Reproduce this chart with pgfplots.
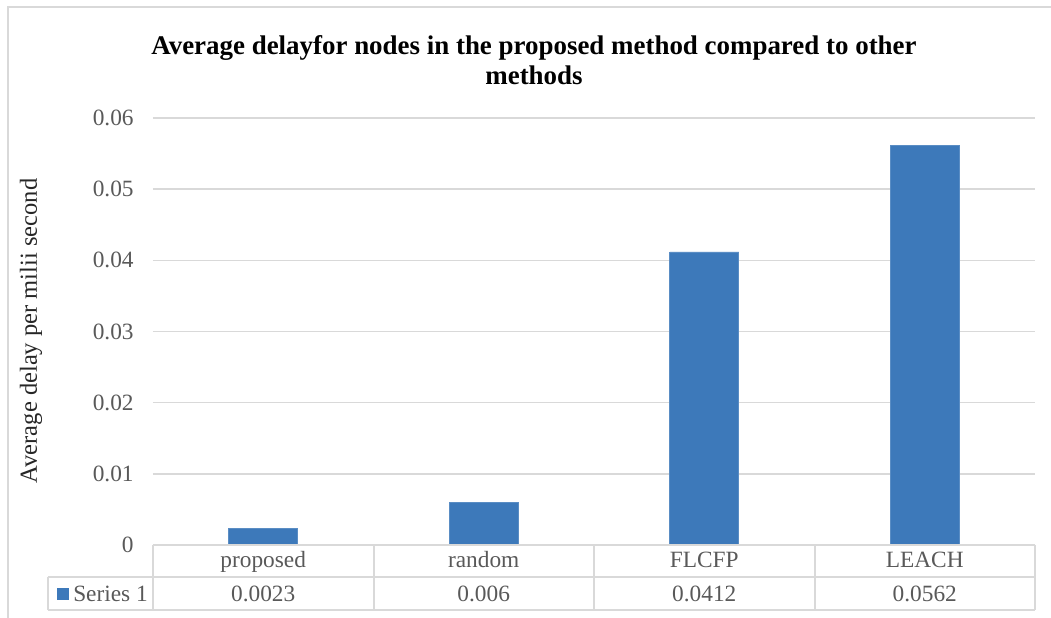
\documentclass[border=0pt]{standalone}
\usepackage{fontspec}
\setmainfont{Liberation Serif}
\usepackage{pgfplots}
\pgfplotsset{compat=1.18}

\definecolor{barblue}{RGB}{61,121,186}
\definecolor{gridgray}{RGB}{217,217,217}
\definecolor{txtgray}{RGB}{89,89,89}

\newcommand{\tickfont}{\fontsize{17.5}{20}\selectfont}

\begin{document}
\begin{tikzpicture}
\begin{axis}[
  at={(0,0)}, anchor=south west,
  scale only axis,
  width=661.5pt, height=320.25pt,
  xmin=-0.5, xmax=3.5,
  ymin=0, ymax=0.06,
  axis line style={draw=none},
  major tick length=0pt,
  scaled y ticks=false,
  xtick=data,
  xticklabels={proposed,random,FLCFP,LEACH},
  xticklabel style={anchor=base, yshift=-16.5pt, font=\tickfont, text=txtgray},
  ytick={0,0.01,0.02,0.03,0.04,0.05,0.06},
  yticklabels={0,0.01,0.02,0.03,0.04,0.05,0.06},
  yticklabel style={font=\tickfont, text=txtgray, xshift=-11pt},
  ymajorgrids,
  grid style={gridgray, line width=1.1pt},
  /pgf/number format/assume math mode=true,
  clip=false,
]
\addplot[ybar, bar width=51.75pt, fill=barblue, draw=barblue!85!white]
  coordinates {(0,0.0023) (1,0.006) (2,0.0412) (3,0.0562)};
% values row of the data table
\node[anchor=base, font=\tickfont, text=txtgray] at (axis cs:0,0) [yshift=-42.75pt] {0.0023};
\node[anchor=base, font=\tickfont, text=txtgray] at (axis cs:1,0) [yshift=-42.75pt] {0.006};
\node[anchor=base, font=\tickfont, text=txtgray] at (axis cs:2,0) [yshift=-42.75pt] {0.0412};
\node[anchor=base, font=\tickfont, text=txtgray] at (axis cs:3,0) [yshift=-42.75pt] {0.0562};
\end{axis}

% surrounding elements, in pixel units of the full chart area
\begin{scope}[x=0.75pt, y=-0.75pt, shift={(-114.75pt,408.75pt)}]
  \path[use as bounding box] (0,0) rectangle (1051,618);
  % chart area border
  \draw[gridgray, line width=1.1pt] (8,618) -- (8,7) -- (1051,7);
  % data table grid
  \draw[gridgray, line width=1.1pt]
    (153,545) -- (1035,545)
    (48,577) -- (1035,577)
    (48,610) -- (1035,610)
    (48,577) -- (48,610)
    (153,545) -- (153,610)
    (374,545) -- (374,610)
    (594,545) -- (594,610)
    (815,545) -- (815,610)
    (1035,545) -- (1035,610);
  % legend key
  \fill[barblue] (57,588) rectangle (69,600);
  \node[anchor=base west, font=\tickfont, text=txtgray, inner sep=0pt] at (73,602) {Series 1};
  % title
  \node[align=center, font=\fontsize{20.2}{23}\selectfont\bfseries] at (534,60)
    {Average delayfor nodes in the proposed method compared to other\\methods};
  % y axis title
  \node[rotate=90, font=\fontsize{18.4}{21}\selectfont, text=black!85] at (31,331)
    {Average delay per milii second};
\end{scope}
\end{tikzpicture}
\end{document}
